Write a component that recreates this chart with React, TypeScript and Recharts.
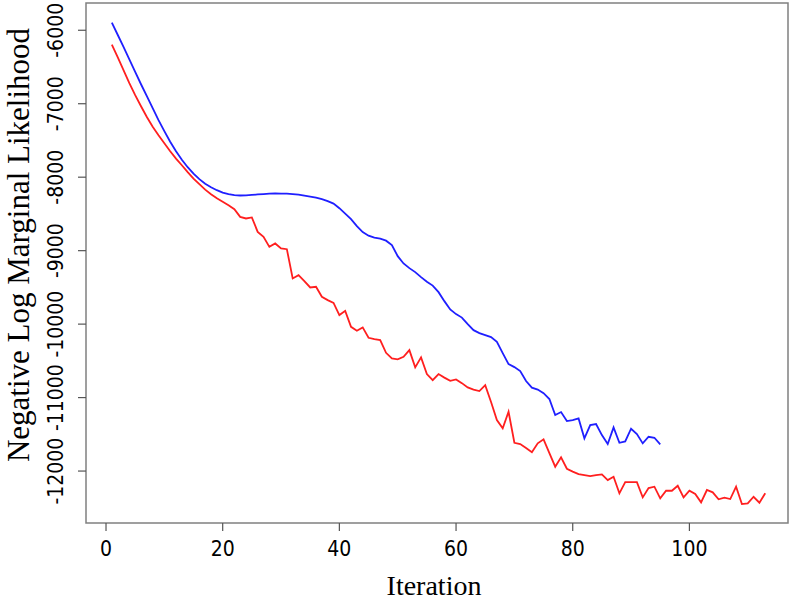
import React from 'react';
import { LineChart, Line, XAxis, YAxis, ReferenceArea } from 'recharts';

// values, one per iteration starting at 1
const redSeries = [
  -6195, -6367, -6544, -6721, -6884, -7034, -7180, -7313, -7429, -7537,
  -7646, -7748, -7837, -7932, -8020, -8095, -8170, -8231, -8286, -8333,
  -8381, -8435, -8540, -8562, -8548, -8744, -8812, -8948, -8902, -8970,
  -8980, -9378, -9333, -9415, -9501, -9492, -9628, -9673, -9710, -9877,
  -9819, -10037, -10091, -10045, -10186, -10204, -10218, -10390, -10467, -10480,
  -10445, -10354, -10589, -10453, -10680, -10762, -10680, -10728, -10771, -10752,
  -10803, -10861, -10891, -10911, -10830, -11061, -11306, -11419, -11193, -11615,
  -11632, -11687, -11745, -11623, -11568, -11755, -11941, -11813, -11968, -12007,
  -12041, -12054, -12068, -12054, -12045, -12122, -12077, -12303, -12150, -12150,
  -12150, -12358, -12231, -12213, -12371, -12268, -12268, -12200, -12358, -12268,
  -12313, -12426, -12258, -12290, -12385, -12363, -12381, -12213, -12449, -12439,
  -12350, -12431, -12303,
];

const blueSeries = [
  -5895, -6061, -6227, -6395, -6565, -6735, -6898, -7061, -7224, -7374,
  -7517, -7646, -7762, -7864, -7952, -8027, -8088, -8136, -8177, -8211,
  -8231, -8245, -8249, -8248, -8242, -8235, -8230, -8224, -8222, -8224,
  -8224, -8231, -8238, -8252, -8265, -8279, -8299, -8326, -8360, -8422,
  -8496, -8571, -8667, -8748, -8796, -8823, -8837, -8864, -8925, -9075,
  -9174, -9238, -9292, -9360, -9422, -9476, -9565, -9687, -9800, -9864,
  -9911, -10000, -10082, -10122, -10150, -10177, -10241, -10394, -10544, -10585,
  -10639, -10775, -10864, -10891, -10939, -11020, -11238, -11197, -11320, -11306,
  -11283, -11555, -11374, -11360, -11510, -11632, -11405, -11615, -11596, -11424,
  -11496, -11623, -11533, -11547, -11637,
];

const xTicks = [0, 20, 40, 60, 80, 100];
const yTicks = [-12000, -11000, -10000, -9000, -8000, -7000, -6000];

const xDomain: [number, number] = [-3.43, 116.9];
const yDomain: [number, number] = [-12707, -5629];

const tickFont = "'Liberation Sans Narrow', 'DejaVu Sans Condensed', 'Liberation Sans', sans-serif";
const titleFont = "'Liberation Serif', 'DejaVu Serif', serif";

const rows = redSeries.map((r, k) => ({
  iteration: k + 1,
  red: r,
  blue: k < blueSeries.length ? blueSeries[k] : undefined,
}));

const XTick = (props: any) => {
  const { x, payload } = props;
  return (
    <text x={x} y={549} textAnchor="middle" dominantBaseline="central"
      fontFamily={tickFont} fontSize={21} fill="#000">
      {payload.value}
    </text>
  );
};

const YTick = (props: any) => {
  const { y, payload } = props;
  const cx = 56;
  return (
    <text x={cx} y={y} textAnchor="middle" dominantBaseline="central"
      transform={`rotate(-90, ${cx}, ${y})`}
      fontFamily={tickFont} fontSize={21} fill="#000">
      {payload.value}
    </text>
  );
};

export default function App() {
  return (
    <div style={{ position: 'absolute', left: 0, top: 0, width: 793, height: 601, background: '#fff' }}>
      <LineChart width={793} height={601} data={rows}
        margin={{ top: 3, right: 5, left: 0, bottom: 0 }}>
        <XAxis type="number" dataKey="iteration" domain={xDomain} ticks={xTicks}
          allowDataOverflow axisLine={false} tickSize={8} height={78}
          tickLine={{ stroke: '#555', strokeWidth: 1.2 }} tick={<XTick />}
          label={{
            content: () => (
              <text x={434} y={585} textAnchor="middle" dominantBaseline="central"
                fontFamily={titleFont} fontSize={28} fill="#000">Iteration</text>
            ),
          }} />
        <YAxis type="number" domain={yDomain} ticks={yTicks} allowDataOverflow
          axisLine={false} tickSize={8} width={86}
          tickLine={{ stroke: '#555', strokeWidth: 1.2 }} tick={<YTick />}
          label={{
            content: () => (
              <text x={18} y={245} textAnchor="middle" dominantBaseline="central"
                transform="rotate(-90, 18, 245)"
                fontFamily={titleFont} fontSize={31} fill="#000">Negative Log Marginal Likelihood</text>
            ),
          }} />
        <ReferenceArea x1={xDomain[0]} x2={xDomain[1]} y1={yDomain[0]} y2={yDomain[1]}
          fill="none" stroke="#808080" strokeWidth={1.5} ifOverflow="visible" />
        <Line type="linear" dataKey="blue" stroke="#1f1fff" strokeWidth={1.8}
          dot={false} isAnimationActive={false} />
        <Line type="linear" dataKey="red" stroke="#ff1f1f" strokeWidth={1.8}
          dot={false} isAnimationActive={false} />
      </LineChart>
    </div>
  );
}
